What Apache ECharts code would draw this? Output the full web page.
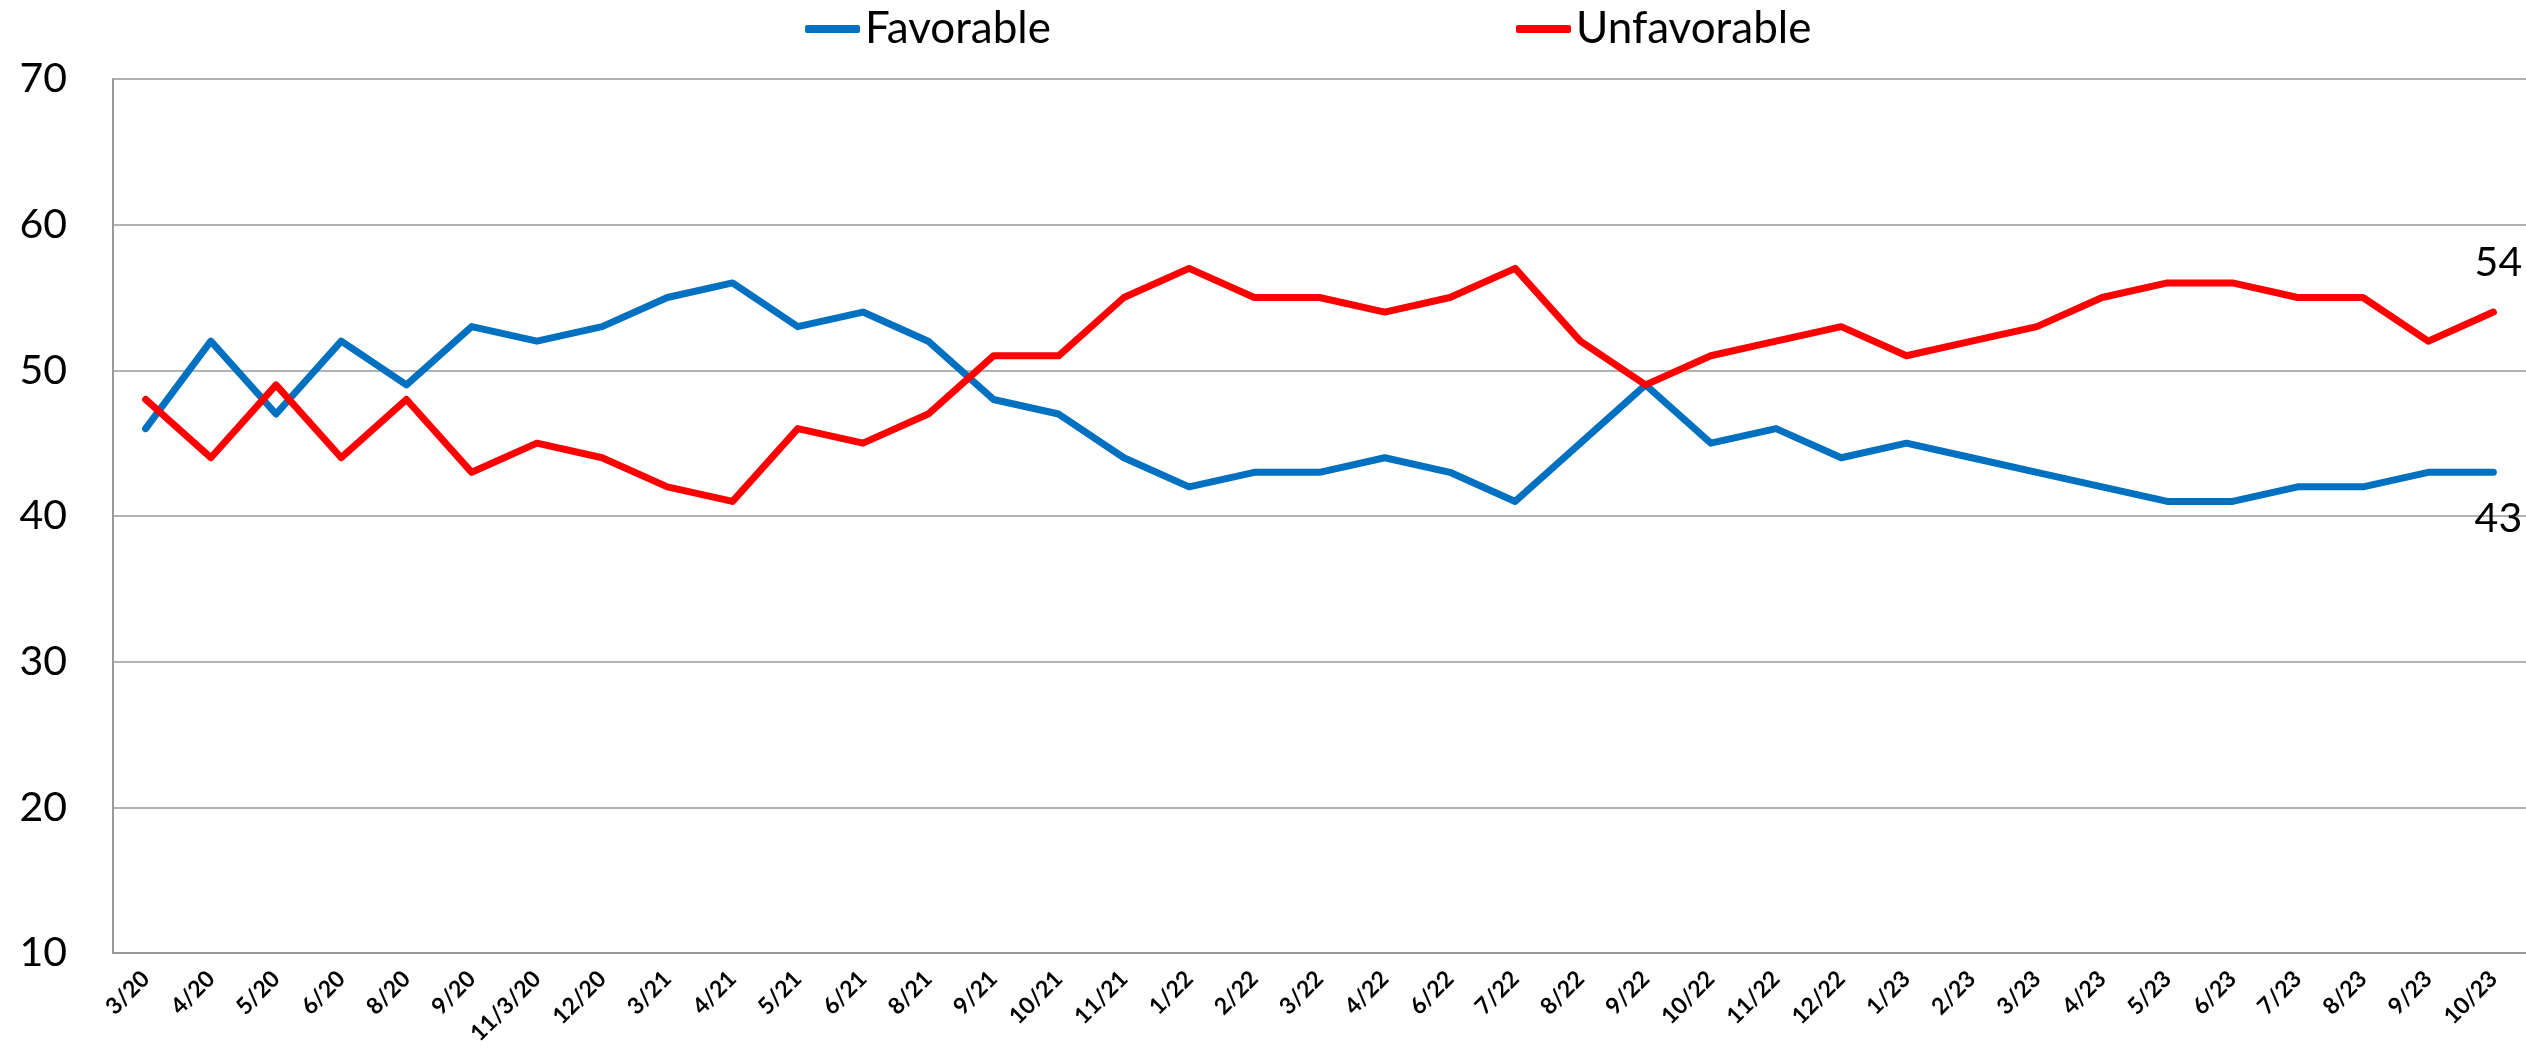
<!DOCTYPE html>
<html>
<head>
<meta charset="utf-8">
<script src="https://cdn.jsdelivr.net/npm/echarts@6/dist/echarts.min.js"></script>
<style>
  html, body { margin: 0; padding: 0; background: #fff; }
  #main { width: 2526px; height: 1054px; }
</style>
</head>
<body>
<div id="main"></div>
<script>
// 日期
var months = ['3/20', '4/20', '5/20', '6/20', '8/20', '9/20', '11/3/20', '12/20',
  '3/21', '4/21', '5/21', '6/21', '8/21', '9/21', '10/21', '11/21',
  '1/22', '2/22', '3/22', '4/22', '6/22', '7/22', '8/22', '9/22', '10/22', '11/22', '12/22',
  '1/23', '2/23', '3/23', '4/23', '5/23', '6/23', '7/23', '8/23', '9/23', '10/23'];

var favorable = [46, 52, 47, 52, 49, 53, 52, 53, 55, 56, 53, 54, 52, 48, 47, 44,
  42, 43, 43, 44, 43, 41, 45, 49, 45, 46, 44, 45, 44, 43, 42, 41, 41, 42, 42, 43, 43];

var unfavorable = [48, 44, 49, 44, 48, 43, 45, 44, 42, 41, 46, 45, 47, 51, 51, 55,
  57, 55, 55, 54, 55, 57, 52, 49, 51, 52, 53, 51, 52, 53, 55, 56, 56, 55, 55, 52, 54];

var yTicks = [10, 20, 30, 40, 50, 60, 70];

var FONT = 'Lato, "Open Sans", sans-serif';

// 只在最后一个点显示数值
function lastLabel(arr, pos, dist) {
  return arr.map(function (v, i) {
    if (i !== arr.length - 1) return v;
    return {
      value: v,
      label: { show: true, position: pos, distance: dist, offset: [5, 0], fontSize: 41, color: '#000', fontFamily: FONT }
    };
  });
}

var chart = echarts.init(document.getElementById('main'));
var option = {
  animation: false,
  backgroundColor: '#fff',
  legend: {
    top: 2,
    left: 800,
    itemWidth: 55,
    itemHeight: 8,
    itemGap: 465,
    icon: 'roundRect',
    textStyle: { fontSize: 44, color: '#000', fontFamily: FONT },
    data: ['Favorable', 'Unfavorable']
  },
  grid: {
    left: 113,
    right: 0,
    top: 79,
    bottom: 101
  },
  xAxis: {
    type: 'category',
    data: months,
    boundaryGap: true,
    axisLine: { show: true, lineStyle: { color: '#999', width: 2 } },
    axisTick: { show: false },
    axisLabel: {
      interval: 0,
      rotate: 45,
      margin: 22,
      fontSize: 23,
      fontWeight: 'bold',
      color: '#000',
      fontFamily: FONT
    }
  },
  yAxis: {
    type: 'value',
    min: yTicks[0],
    max: yTicks[yTicks.length - 1],
    interval: 10,
    axisLine: { show: true, lineStyle: { color: '#999', width: 2 } },
    axisTick: { show: false },
    splitLine: { show: true, lineStyle: { color: '#999', width: 1.5 } },
    axisLabel: {
      fontSize: 41,
      color: '#000',
      margin: 46,
      fontFamily: FONT
    }
  },
  series: [
    {
      name: 'Favorable',
      type: 'line',
      color: '#0070C0',
      symbol: 'circle',
      symbolSize: 1,
      showSymbol: true,
      lineStyle: { width: 7, color: '#0070C0', cap: 'round', join: 'round' },
      itemStyle: { color: '#0070C0' },
      data: lastLabel(favorable, 'bottom', 25)
    },
    {
      name: 'Unfavorable',
      type: 'line',
      color: '#FF0000',
      symbol: 'circle',
      symbolSize: 1,
      showSymbol: true,
      lineStyle: { width: 7, color: '#FF0000', cap: 'round', join: 'round' },
      itemStyle: { color: '#FF0000' },
      data: lastLabel(unfavorable, 'top', 28)
    }
  ]
};
chart.setOption(option);

window.addEventListener('resize', function () {
  chart.resize();
});
</script>
</body>
</html>
